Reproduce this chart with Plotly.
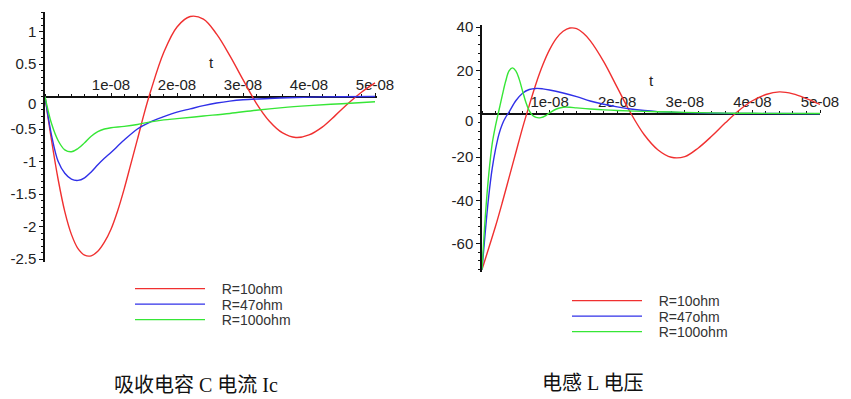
import plotly.graph_objects as go

W, H = 851, 399
NS = 1e-9

# ---------------- Left panel: capacitor current Ic (A) ----------------
IC_T_R10 = [0, 1, 2, 3, 4, 5, 6, 7, 8, 9, 10, 11, 12, 13, 14, 15, 16, 18, 20, 22, 24,
            26, 28, 30, 32, 34, 36, 38, 40, 42, 44, 46, 48, 50]
IC_V_R10 = [0, -0.68, -1.28, -1.77, -2.12, -2.34, -2.44, -2.45, -2.38, -2.24, -2.04, -1.76,
            -1.42, -1.04, -0.66, -0.27, 0.08, 0.68, 1.07, 1.23, 1.19, 0.96, 0.63, 0.26,
            -0.10, -0.38, -0.56, -0.63, -0.59, -0.47, -0.29, -0.10, 0.07, 0.21]

IC_T_R47 = [0, 1, 2, 3, 4, 5, 6, 7, 8, 9, 10, 12, 14, 16, 18, 20, 22, 24, 26, 28, 30,
            34, 38, 42, 50]
IC_V_R47 = [0, -0.60, -1.00, -1.18, -1.27, -1.29, -1.25, -1.16, -1.05, -0.95, -0.86, -0.67,
            -0.50, -0.39, -0.31, -0.24, -0.19, -0.14, -0.10, -0.07, -0.05, -0.03, -0.015,
            -0.005, 0.0]

IC_T_R100 = [0, 1, 2, 3, 4, 5, 6, 7, 8, 9, 10, 12, 14, 16, 18, 20, 24, 28, 32, 36, 40, 45, 50]
IC_V_R100 = [0, -0.42, -0.68, -0.82, -0.85, -0.80, -0.71, -0.61, -0.54, -0.50, -0.48, -0.46,
             -0.43, -0.39, -0.36, -0.34, -0.30, -0.26, -0.21, -0.17, -0.14, -0.11, -0.08]

# ---------------- Right panel: inductor voltage (V) ----------------
VL_T_R10 = [0, 1, 2, 3, 4, 5, 6, 7, 8, 9, 10, 11, 12, 13, 14, 15, 16, 18, 20, 22, 24,
            26, 28, 30, 32, 34, 36, 38, 40, 42, 44, 46, 48, 50]
VL_V_R10 = [-72, -62, -52, -41, -29.5, -18, -6.5, 4, 14, 22.6, 29.6, 34.8, 38.1, 39.6, 39.3,
            37.2, 33.8, 24.1, 12.2, 0.3, -9.7, -16.6, -20.1, -19.8, -15.8, -10.3, -4.2, 1.5,
            6.0, 8.9, 10.1, 9.2, 7.0, 4.3]

VL_T_R47 = [0, 0.5, 1, 1.5, 2, 2.5, 3, 3.5, 4, 5, 6, 7, 8, 9, 10, 12, 14, 16, 18, 20, 22,
            24, 26, 28, 30, 35, 40, 50]
VL_V_R47 = [-72, -54, -38, -25.5, -16.5, -9.5, -4.8, -1.6, 0.8, 6.0, 9.5, 11.2, 11.7, 11.5,
            11.0, 9.6, 7.9, 5.9, 4.4, 3.2, 2.2, 1.5, 1.0, 0.7, 0.5, 0.2, 0.1, 0.0]

VL_T_R100 = [0, 0.5, 1, 1.5, 2, 2.5, 3, 3.5, 4, 4.5, 5, 5.5, 6, 6.5, 7, 7.5, 8, 8.7, 9.5,
             10, 11, 12, 13, 14, 16, 18, 20, 24, 28, 32, 36, 40, 50]
VL_V_R100 = [-72, -47, -28, -14, -5.5, 1.5, 8.5, 15, 19.8, 21.2, 19.8, 16, 10.5, 5.2, 1.3,
             -0.8, -1.7, -1.8, -0.7, 0.4, 2.2, 3.0, 3.0, 2.7, 2.2, 1.8, 1.5, 1.1, 0.8, 0.5,
             0.3, 0.2, 0.1]

SERIES_NAMES = ["R=10ohm", "R=47ohm", "R=100ohm"]
SERIES_COLORS = ["#f03030", "#3030e8", "#36e636"]

X_TICKVALS = [1e-8, 2e-8, 3e-8, 4e-8, 5e-8]
X_TICKTEXT = ["1e-08", "2e-08", "3e-08", "4e-08", "5e-08"]
IC_Y_TICKVALS = [1, 0.5, -0.5, -1, -1.5, -2, -2.5]
IC_Y_TICKTEXT = ["1", "0.5", "-0.5", "-1", "-1.5", "-2", "-2.5"]
VL_Y_TICKVALS = [40, 20, -20, -40, -60]
VL_Y_TICKTEXT = ["40", "20", "-20", "-40", "-60"]

CAPTION_LEFT = "吸收电容 C 电流 Ic"
CAPTION_RIGHT = "电感 L 电压"

# ---------------- figure geometry ----------------
IC_XRANGE = [0, 5.03e-8]
IC_YRANGE = [-2.545, 1.30]
VL_XRANGE = [0, 5.0e-8]
VL_YRANGE = [-73.1, 41.0]

L_DOM_X = [45 / W, 377 / W]
L_DOM_Y = [1 - 262 / H, 1 - 12 / H]
R_DOM_X = [482 / W, 820 / W]
R_DOM_Y = [1 - 272 / H, 1 - 25 / H]

# legend placement (pixels): left edge of legend box, row centres
L_LEG_X, L_LEG_ROWS = 130, [289, 304.5, 320]
R_LEG_X, R_LEG_ROWS = 567, [301, 316.5, 332]


def zero_pos(dom, rng):
    return dom[0] + (0 - rng[0]) / (rng[1] - rng[0]) * (dom[1] - dom[0])


fig = go.Figure()

ic_sets = [(IC_T_R10, IC_V_R10), (IC_T_R47, IC_V_R47), (IC_T_R100, IC_V_R100)]
vl_sets = [(VL_T_R10, VL_V_R10), (VL_T_R47, VL_V_R47), (VL_T_R100, VL_V_R100)]

leg_font = dict(family="Liberation Sans, Arial, sans-serif", size=14, color="#333")
legends = {}
k = 0
for panel, sets, xa, ya, lx, rows in (("L", ic_sets, "x", "y", L_LEG_X, L_LEG_ROWS),
                                      ("R", vl_sets, "x2", "y2", R_LEG_X, R_LEG_ROWS)):
    for (t, v), name, col, row in zip(sets, SERIES_NAMES, SERIES_COLORS, rows):
        k += 1
        lname = "legend" if k == 1 else f"legend{k}"
        fig.add_trace(go.Scatter(x=[ti * NS for ti in t], y=v, mode="lines",
                                 name="\u00a0\u00a0\u00a0" + name,
                                 line=dict(color=col, width=1.4, shape="spline"),
                                 xaxis=xa, yaxis=ya, legend=lname))
        legends[lname] = dict(x=lx / W, y=1 - row / H, xanchor="left", yanchor="middle",
                              bgcolor="rgba(0,0,0,0)", itemwidth=70, font=leg_font,
                              borderwidth=0)

tick_font = dict(family="Liberation Sans, Arial, sans-serif", size=15, color="#222")

common_x = dict(anchor="free", side="top", showline=True, linecolor="#111", linewidth=2,
                ticks="outside", ticklen=3, tickcolor="#111", tickvals=X_TICKVALS,
                ticktext=X_TICKTEXT, showgrid=False, zeroline=False, tickfont=tick_font,
                minor=dict(ticks="outside", ticklen=2, dtick=2e-9, tickcolor="#111"),
                layer="below traces", automargin=False, ticklabelstandoff=-3,
                title=dict(text="t", font=tick_font, standoff=2))
common_y = dict(showline=True, linecolor="#111", linewidth=1.5, ticks="outside", ticklen=4,
                tickcolor="#111", showgrid=False, zeroline=False, tickfont=tick_font,
                layer="below traces", automargin=False)

fig.update_layout(
    template="none",
    width=W, height=H, margin=dict(l=0, r=0, t=0, b=0, autoexpand=False),
    paper_bgcolor="white", plot_bgcolor="rgba(0,0,0,0)",
    xaxis=dict(domain=L_DOM_X, range=IC_XRANGE,
               position=zero_pos(L_DOM_Y, IC_YRANGE), **common_x),
    yaxis=dict(domain=L_DOM_Y, range=IC_YRANGE, anchor="x", tickvals=IC_Y_TICKVALS,
               ticktext=IC_Y_TICKTEXT,
               minor=dict(ticks="outside", ticklen=2, dtick=0.1, tickcolor="#111"),
               **common_y),
    xaxis2=dict(domain=R_DOM_X, range=VL_XRANGE,
                position=zero_pos(R_DOM_Y, VL_YRANGE), **common_x),
    yaxis2=dict(domain=R_DOM_Y, range=VL_YRANGE, anchor="x2", tickvals=VL_Y_TICKVALS,
                ticktext=VL_Y_TICKTEXT,
                minor=dict(ticks="outside", ticklen=2, dtick=4, tickcolor="#111"),
                **common_y),
    showlegend=True,
    **legends,
)

# zero labels of the y axes (drawn slightly below the x axis, as in the source)
for xr, yr in (("x", "y"), ("x2", "y2")):
    fig.add_annotation(x=0, y=0, xref=xr, yref=yr, text="0", showarrow=False,
                       xanchor="right", yanchor="middle", xshift=-7, yshift=-7,
                       font=tick_font)

cap_font = dict(family="Liberation Serif, Noto Sans CJK SC, serif", size=20, color="#111")
fig.add_annotation(x=196 / W, y=1 - 385 / H, xref="paper", yref="paper", text=CAPTION_LEFT,
                   showarrow=False, font=cap_font, xanchor="center", yanchor="middle")
fig.add_annotation(x=592 / W, y=1 - 383 / H, xref="paper", yref="paper", text=CAPTION_RIGHT,
                   showarrow=False, font=cap_font, xanchor="center", yanchor="middle")

fig.write_html("out.html", config={"displayModeBar": False},
               post_script="document.body.style.margin='0';document.body.style.padding='0';"
                           "document.body.style.overflow='hidden';")
